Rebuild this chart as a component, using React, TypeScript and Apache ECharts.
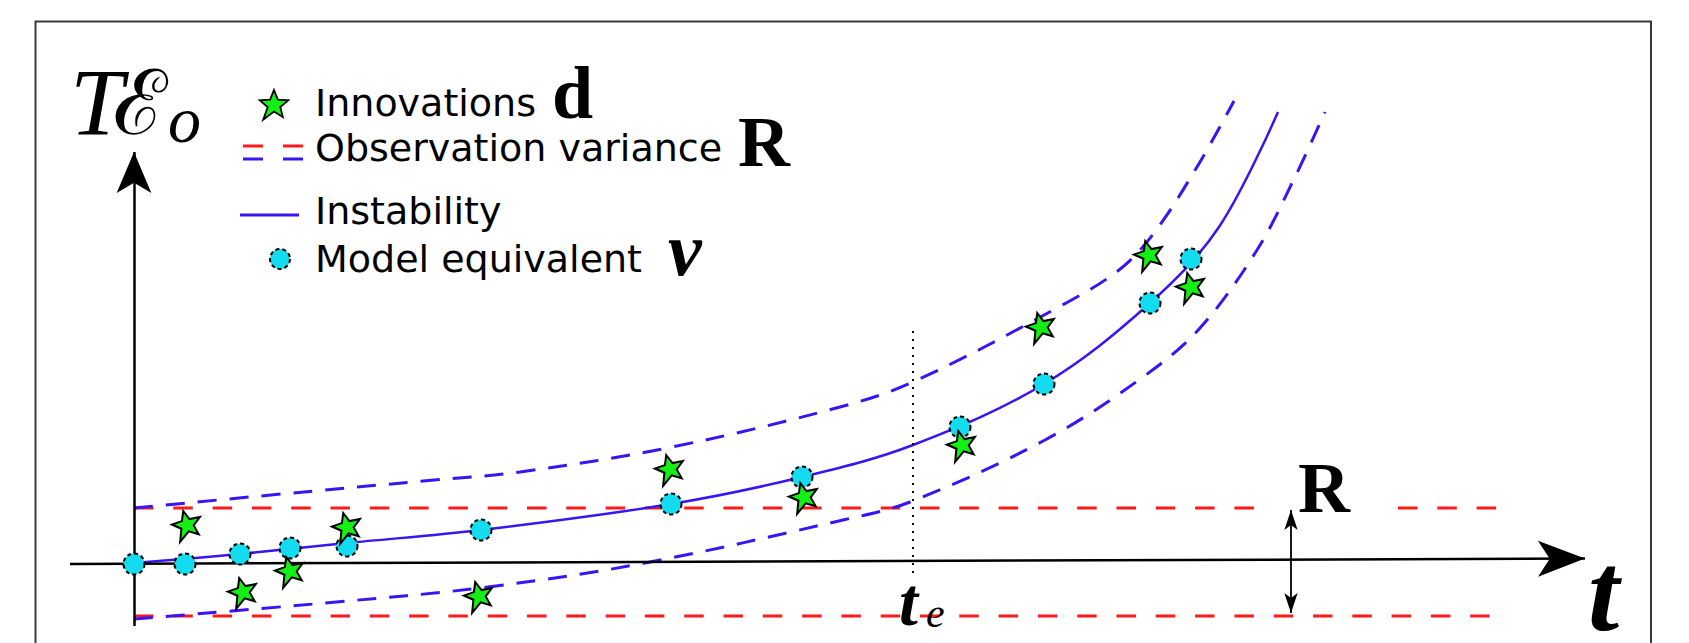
import React, { useEffect, useRef } from "react";
import * as echarts from "echarts";

// ---- data (t in arbitrary time units, value in arbitrary TE units) ----
// Model equivalent ν (cyan dots)
const modelT = [0, 5.1, 10.6, 15.6, 21.3, 34.7, 53.7, 66.8, 82.6, 91.0, 101.6, 105.7];
const modelV = [-0.1, -0.1, 0.9, 1.5, 1.7, 3.3, 5.9, 8.6, 13.6, 17.9, 26.0, 30.4];
// Innovations d (green stars)
const innovT = [5.3, 10.9, 15.6, 21.3, 34.5, 53.6, 67.0, 82.8, 90.7, 101.5, 105.7];
const innovV = [3.8, -2.9, -0.8, 3.6, -3.3, 9.4, 6.6, 11.8, 23.6, 30.8, 27.6];
// Instability curve
const instabT = [0, 10.6, 21.3, 34.7, 53.7, 66.8, 77.9, 91.0, 101.6, 108.5, 114.4];
const instabV = [0, 0.9, 2.0, 3.3, 5.9, 8.6, 11.8, 17.9, 26.0, 33.6, 45.1];
// Envelopes (instability ± R)
const upperT = [0, 13.7, 30, 38.6, 53.8, 70.6, 77.9, 92.3, 98.5, 102, 106.3, 110];
const upperV = [5.5, 6.8, 8.3, 9.1, 11.6, 15.6, 18.1, 25.5, 29.3, 33, 39.6, 46.2];
const lowerT = [0, 19.1, 35.4, 51.1, 70.9, 77.6, 91.1, 100.9, 106.6, 112.3, 116.1, 119.1];
const lowerV = [-5.6, -4.0, -2.4, 0, 4.3, 6.1, 12.3, 18.6, 23.5, 31.3, 38.6, 45.1];
// Observation variance R (horizontal levels)
const rLevels = [5.5, -5.3];
const rSpanT = [0, 136.4];
const rGapT = [112.6, 126.4];
// Time of exceedance t_e and R marker
const teT = 77.9;
const teSpanV = [23.2, -1.4];
const rArrowT = 115.7;
const rArrowV = [5.3, -5.0];
// Axis extents
const xAxisSpanT = [-6.4, 145.1];
const xAxisSpanV = [-0.1, 0.45];
const yAxisSpanV = [-6.3, 41.1];

const BLUE = "#3a14f5";
const RED = "#ff1a1a";
const CYAN = "#14dcf0";
const GREEN = "#14f014";

const STAR_D =
  "M50 0 L62.9 32.2 L97.6 34.5 L70.9 56.8 L79.4 90.5 L50 72 L14 99 L29.1 56.8 L2.4 34.5 L37.1 32.2 Z";

const zip = (a: number[], b: number[]) => a.map((v, i) => [v, b[i]]);

export default function App() {
  const ref = useRef<HTMLDivElement>(null);
  useEffect(() => {
    if (!ref.current) return;
    try {
      echarts.graphic.registerShape("star5", echarts.graphic.extendPath(STAR_D, {}) as any);
    } catch (e) {}
    const chart = echarts.init(ref.current, undefined, { renderer: "svg" });

    const dashedEnv = {
      color: BLUE,
      width: 3,
      type: [19, 13] as any,
    };
    const redStyle = { color: RED, width: 3, type: [19.5, 19.8] as any };

    const sans = '"DejaVu Sans", sans-serif';
    const serif = '"Liberation Serif", "DejaVu Serif", serif';

    const txt = (text: string, x: number, y: number, size: number, family: string, extra: any = {}) => ({
      type: "text",
      x,
      y,
      silent: true,
      z: 20,
      style: {
        text,
        fill: "#000",
        fontSize: size,
        fontFamily: family,
        textAlign: "left",
        textVerticalAlign: "middle",
        verticalAlign: "middle",
        ...extra,
      },
    });

    const smoothLine = (name: string, t: number[], v: number[], lineStyle: any) => ({
      name,
      type: "line",
      data: zip(t, v),
      symbol: "none",
      smooth: 0.35,
      lineStyle,
      z: 3,
      silent: true,
    });

    const option: any = {
      animation: false,
      backgroundColor: "#fff",
      grid: { left: 0, right: 0, top: 0, bottom: 0, containLabel: false },
      xAxis: { type: "value", min: -13.4, max: 155.5, show: false },
      yAxis: { type: "value", min: -8.0, max: 56.3, show: false },
      series: [
        {
          name: "R upper a",
          type: "line",
          data: [[rSpanT[0], rLevels[0]], [rGapT[0], rLevels[0]]],
          symbol: "none",
          lineStyle: redStyle,
          z: 2,
          silent: true,
        },
        {
          name: "R upper b",
          type: "line",
          data: [[rGapT[1], rLevels[0]], [rSpanT[1], rLevels[0]]],
          symbol: "none",
          lineStyle: redStyle,
          z: 2,
          silent: true,
        },
        {
          name: "R lower",
          type: "line",
          data: [[rSpanT[0], rLevels[1]], [rSpanT[1], rLevels[1]]],
          symbol: "none",
          lineStyle: redStyle,
          z: 2,
          silent: true,
        },
        smoothLine("upper", upperT, upperV, dashedEnv),
        smoothLine("lower", lowerT, lowerV, dashedEnv),
        smoothLine("Instability", instabT, instabV, { color: BLUE, width: 2.5 }),
        {
          name: "axes",
          type: "line",
          data: [],
          z: 4,
          silent: true,
          markLine: {
            silent: true,
            animation: false,
            label: { show: false },
            symbol: ["none", "arrow"],
            data: [
              [
                { coord: [xAxisSpanT[0], xAxisSpanV[0]], symbol: "none" },
                {
                  coord: [xAxisSpanT[1], xAxisSpanV[1]],
                  symbol: "arrow",
                  symbolSize: [27, 47],
                },
              ],
              [
                { coord: [0, yAxisSpanV[0]], symbol: "none" },
                { coord: [0, yAxisSpanV[1]], symbol: "arrow", symbolSize: [26, 41] },
              ],
            ],
            lineStyle: { color: "#000", width: 2.5, type: "solid" },
          },
        },
        {
          name: "te",
          type: "line",
          data: [],
          z: 4,
          silent: true,
          markLine: {
            silent: true,
            animation: false,
            label: { show: false },
            symbol: ["none", "none"],
            lineStyle: { color: "#000", width: 2, type: [2, 6] },
            data: [[{ coord: [teT, teSpanV[0]] }, { coord: [teT, teSpanV[1]] }]],
          },
        },
        {
          name: "rArrow",
          type: "line",
          data: [],
          z: 4,
          silent: true,
          markLine: {
            silent: true,
            animation: false,
            label: { show: false },
            symbol: ["arrow", "arrow"],
            symbolSize: [10, 20],
            lineStyle: { color: "#000", width: 1.8, type: "solid" },
            data: [[{ coord: [rArrowT, rArrowV[0]] }, { coord: [rArrowT, rArrowV[1]] }]],
          },
        },
        {
          name: "Model equivalent",
          type: "scatter",
          data: zip(modelT, modelV),
          symbol: "circle",
          symbolSize: 21,
          itemStyle: {
            color: CYAN,
            borderColor: "#000",
            borderWidth: 2,
            borderType: [4, 3],
            opacity: 1,
          },
          z: 6,
          silent: true,
        },
        {
          name: "Innovations",
          type: "scatter",
          data: zip(innovT, innovV),
          symbol: "path://" + STAR_D,
          symbolSize: 29,
          symbolRotate: 15,
          itemStyle: { color: GREEN, borderColor: "#000", borderWidth: 2, opacity: 1 },
          z: 7,
          silent: true,
        },
      ],
      graphic: [
        {
          type: "rect",
          silent: true,
          z: 30,
          shape: { x: 35.5, y: 21.5, width: 1615.5, height: 700 },
          style: { fill: "none", stroke: "#3a3a3a", lineWidth: 2 },
        },
        // axis title TE_o (one rich text)
        {
          type: "text",
          x: 70,
          y: 52.6,
          silent: true,
          z: 20,
          style: {
            text: "{T|T}{E|\u2130}{o|o}",
            fill: "#000",
            textAlign: "left",
            textVerticalAlign: "top",
            verticalAlign: "top",
            rich: {
              T: {
                fontSize: 96,
                fontFamily: serif,
                fontStyle: "italic",
                lineHeight: 100,
                width: 43,
                verticalAlign: "middle",
              },
              E: {
                fontSize: 90,
                fontFamily: '"DejaVu Serif", serif',
                lineHeight: 100,
                width: 55,
                verticalAlign: "middle",
              },
              o: {
                fontSize: 66,
                fontFamily: serif,
                fontStyle: "italic",
                lineHeight: 50,
                verticalAlign: "bottom",
              },
            },
          },
        },
        // legend icons
        {
          type: "star5",
          x: 259,
          y: 90,
          scaleX: 0.3,
          scaleY: 0.3,
          silent: true,
          z: 20,
          style: { fill: GREEN, stroke: "#000", lineWidth: 6 },
        },
        { type: "line", silent: true, z: 20, shape: { x1: 243, y1: 146, x2: 263, y2: 146 }, style: { stroke: RED, lineWidth: 3 } },
        { type: "line", silent: true, z: 20, shape: { x1: 283, y1: 146, x2: 303, y2: 146 }, style: { stroke: RED, lineWidth: 3 } },
        { type: "line", silent: true, z: 20, shape: { x1: 243, y1: 159, x2: 263, y2: 159 }, style: { stroke: BLUE, lineWidth: 3 } },
        { type: "line", silent: true, z: 20, shape: { x1: 283, y1: 159, x2: 303, y2: 159 }, style: { stroke: BLUE, lineWidth: 3 } },
        { type: "line", silent: true, z: 20, shape: { x1: 240, y1: 215, x2: 299, y2: 215 }, style: { stroke: BLUE, lineWidth: 3 } },
        {
          type: "circle",
          silent: true,
          z: 20,
          shape: { cx: 280, cy: 259, r: 10 },
          style: { fill: CYAN, stroke: "#000", lineWidth: 2, lineDash: [4, 3] },
        },
        // legend text
        txt("Innovations", 315, 102.9, 38, sans),
        txt("d", 552, 93, 74, serif, { fontWeight: "bold", lineHeight: 60 }),
        txt("Observation variance", 315, 147.9, 38, sans),
        txt("R", 738, 142, 72, serif, { fontWeight: "bold", lineHeight: 55 }),
        txt("Instability", 315, 210.9, 38, sans),
        txt("Model equivalent", 315, 258.9, 38, sans),
        txt("\u03bd", 668, 249, 76, serif, { fontWeight: "bold", fontStyle: "italic", lineHeight: 50 }),
        // annotations
        txt("R", 1298, 488, 72, serif, { fontWeight: "bold", lineHeight: 55 }),
        txt("t", 1588, 592, 112, serif, { fontWeight: "bold", fontStyle: "italic", lineHeight: 72 }),
        txt("t", 899, 602, 68, serif, { fontWeight: "bold", fontStyle: "italic", lineHeight: 46 }),
        txt("e", 926, 613, 42, serif, { fontStyle: "italic", lineHeight: 28 }),
      ],
    };
    chart.setOption(option);
    return () => chart.dispose();
  }, []);
  return (
    <div
      ref={ref}
      style={{ position: "fixed", left: 0, top: 0, width: 1689, height: 643, background: "#fff" }}
    />
  );
}
